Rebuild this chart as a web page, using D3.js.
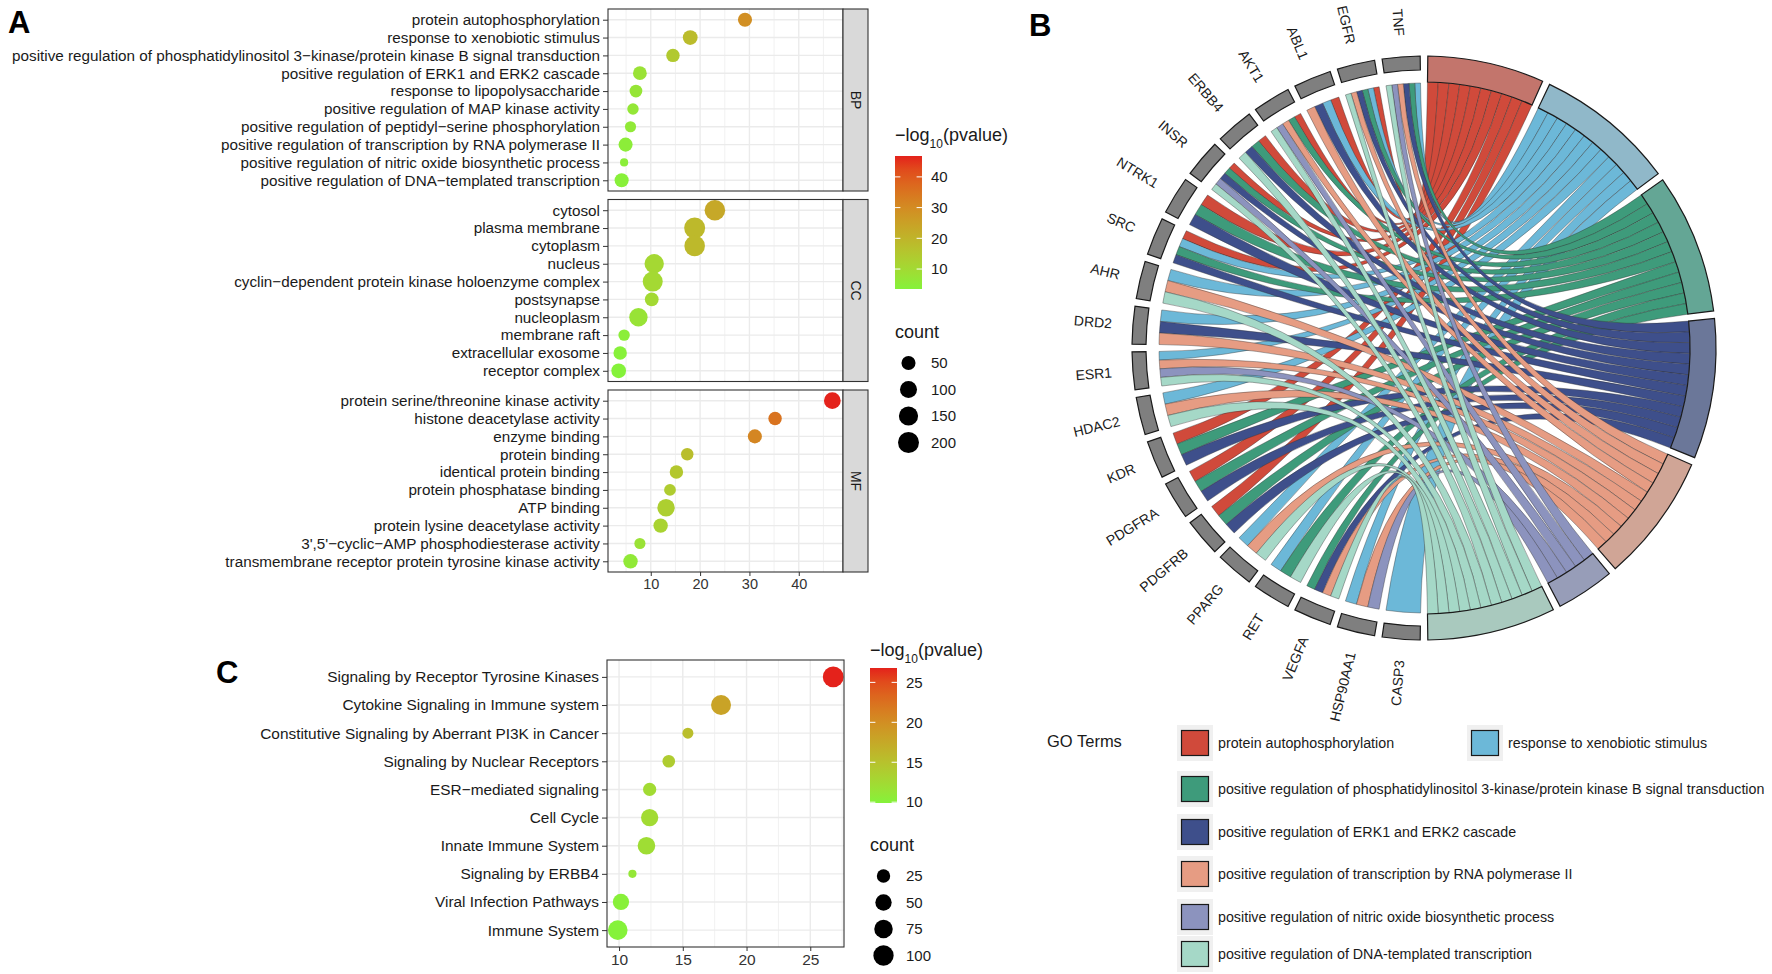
<!DOCTYPE html>
<html>
<head>
<meta charset="utf-8">
<script src="https://cdn.jsdelivr.net/npm/d3@7"></script>
<style>
  body { margin: 0; background: #fff; }
  text { font-family: "Liberation Sans", Arial, Helvetica, sans-serif; }
</style>
</head>
<body>
<svg id="fig" width="1772" height="974"></svg>
<script>
// ---- data: panel A (GO enrichment) ----
var bpTerms = ["protein autophosphorylation", "response to xenobiotic stimulus",
  "positive regulation of phosphatidylinositol 3\u2212kinase/protein kinase B signal transduction",
  "positive regulation of ERK1 and ERK2 cascade", "response to lipopolysaccharide",
  "positive regulation of MAP kinase activity", "positive regulation of peptidyl\u2212serine phosphorylation",
  "positive regulation of transcription by RNA polymerase II",
  "positive regulation of nitric oxide biosynthetic process",
  "positive regulation of DNA\u2212templated transcription"];
var bpLogP = [29.1, 18.0, 14.5, 7.8, 7.0, 6.4, 5.9, 4.9, 4.6, 4.1];
var bpCount = [50, 60, 42, 46, 34, 22, 20, 50, 10, 50];

var ccTerms = ["cytosol", "plasma membrane", "cytoplasm", "nucleus",
  "cyclin\u2212dependent protein kinase holoenzyme complex", "postsynapse", "nucleoplasm",
  "membrane raft", "extracellular exosome", "receptor complex"];
var ccLogP = [23.0, 18.9, 18.9, 10.7, 10.4, 10.2, 7.5, 4.6, 3.8, 3.5];
var ccCount = [188, 200, 188, 154, 172, 46, 130, 22, 42, 60];

var mfTerms = ["protein serine/threonine kinase activity", "histone deacetylase activity",
  "enzyme binding", "protein binding", "identical protein binding", "protein phosphatase binding",
  "ATP binding", "protein lysine deacetylase activity",
  "3',5'\u2212cyclic\u2212AMP phosphodiesterase activity",
  "transmembrane receptor protein tyrosine kinase activity"];
var mfLogP = [46.8, 35.2, 31.1, 17.4, 15.2, 13.9, 13.1, 12.0, 7.8, 5.9];
var mfCount = [94, 42, 50, 31, 42, 25, 108, 55, 20, 55];

var aColorBreaks = [10, 20, 30, 40];
var aCountBreaks = [50, 100, 150, 200];
var aXTicks = [10, 20, 30, 40];

// ---- data: panel C (Reactome) ----
var reTerms = ["Signaling by Receptor Tyrosine Kinases", "Cytokine Signaling in Immune system",
  "Constitutive Signaling by Aberrant PI3K in Cancer", "Signaling by Nuclear Receptors",
  "ESR\u2212mediated signaling", "Cell Cycle", "Innate Immune System", "Signaling by ERBB4",
  "Viral Infection Pathways", "Immune System"];
var reLogP = [26.8, 18.0, 15.4, 13.9, 12.4, 12.4, 12.15, 11.05, 10.15, 9.9];
var reCount = [108, 95, 13, 20, 24, 60, 64, 8, 49, 90];
var cColorBreaks = [10, 15, 20, 25];
var cCountBreaks = [25, 50, 75, 100];
var cXTicks = [10, 15, 20, 25];

// ---- data: panel B (chord) ----
var genes = ["TNF", "EGFR", "ABL1", "AKT1", "ERBB4", "INSR", "NTRK1", "SRC", "AHR", "DRD2",
  "ESR1", "HDAC2", "KDR", "PDGFRA", "PDGFRB", "PPARG", "RET", "VEGFA", "HSP90AA1", "CASP3"];
var goTerms = ["protein autophosphorylation", "response to xenobiotic stimulus",
  "positive regulation of phosphatidylinositol 3-kinase/protein kinase B signal transduction",
  "positive regulation of ERK1 and ERK2 cascade",
  "positive regulation of transcription by RNA polymerase II",
  "positive regulation of nitric oxide biosynthetic process",
  "positive regulation of DNA-templated transcription"];
// term indexes linked to each gene
var geneTerms = [
  [1, 2, 3, 4, 5, 6], [0, 1, 2, 3, 4, 6], [0, 1, 3, 4], [0, 2, 4, 5, 6], [0, 2, 3, 6],
  [0, 2, 3, 5, 6], [0, 2, 3], [0, 1, 2, 3], [1, 4, 6], [1, 3, 4],
  [1, 4, 5, 6], [1, 4, 6], [0, 2, 3], [0, 2, 3], [0, 2, 3],
  [1, 4, 6], [1, 2, 6], [2, 3, 4, 6], [1, 4, 5], [1]];
var ribbonColors = ["#D04A3B", "#6CB8D8", "#3E9B7B", "#3E4F8B", "#E69C83", "#8C93BE", "#A5D8C7"];
var bandColors = ["#C3756C", "#90B8C9", "#64A695", "#6B7799", "#D0A596", "#979DB8", "#A9C9BE"];

var LOW = "#85F23A", HIGH = "#E4221B";
var svg = d3.select("#fig");

function fitSize(str, target) {
  var t = svg.append("text").style("font-size", "100px").text(str);
  var w = t.node().getComputedTextLength();
  t.remove();
  return 100 * target / w;
}

function padExtent(ext) {
  var p = (ext[1] - ext[0]) * 0.05;
  return [ext[0] - p, ext[1] + p];
}

// draws one dot panel
function dotPanel(o) {
  var g = svg.append("g");
  var y = d3.scalePoint().domain(o.terms).range([o.top, o.top + o.h]).padding(0.6);
  var x0 = o.x.range()[0], x1 = o.x.range()[1];
  g.append("rect").attr("x", x0).attr("y", o.top).attr("width", x1 - x0).attr("height", o.h)
    .attr("fill", "#fff");
  g.selectAll(".minor").data(o.minor).enter().append("line")
    .attr("x1", d => o.x(d)).attr("x2", d => o.x(d))
    .attr("y1", o.top).attr("y2", o.top + o.h)
    .attr("stroke", "#ebebeb").attr("stroke-width", 0.7);
  g.selectAll(".major").data(o.major).enter().append("line")
    .attr("x1", d => o.x(d)).attr("x2", d => o.x(d))
    .attr("y1", o.top).attr("y2", o.top + o.h)
    .attr("stroke", "#ebebeb").attr("stroke-width", 1.4);
  g.selectAll(".hgrid").data(o.terms).enter().append("line")
    .attr("x1", x0).attr("x2", x1)
    .attr("y1", d => y(d)).attr("y2", d => y(d))
    .attr("stroke", "#ebebeb").attr("stroke-width", 1.4);
  g.selectAll("circle").data(o.terms).enter().append("circle")
    .attr("cx", (d, i) => o.x(o.logp[i]))
    .attr("cy", d => y(d))
    .attr("r", (d, i) => o.r(o.count[i] - o.cmin))
    .attr("fill", (d, i) => o.col(o.logp[i]));
  g.append("rect").attr("x", x0).attr("y", o.top).attr("width", x1 - x0).attr("height", o.h)
    .attr("fill", "none").attr("stroke", "#333").attr("stroke-width", 1.1);
  var ax = g.append("g").attr("transform", "translate(" + x0 + ",0)")
    .call(d3.axisLeft(y).tickSize(5).tickPadding(3));
  ax.select(".domain").remove();
  ax.selectAll(".tick line").attr("stroke", "#333");
  ax.selectAll("text").attr("fill", "#1a1a1a").style("font-size", o.fs + "px")
    .style("font-family", "'Liberation Sans', Arial, sans-serif");
  if (o.strip) {
    g.append("rect").attr("x", x1).attr("y", o.top).attr("width", 25).attr("height", o.h)
      .attr("fill", "#d9d9d9").attr("stroke", "#333").attr("stroke-width", 1.1);
    g.append("text").attr("transform", "translate(" + (x1 + 12.5) + "," + (o.top + o.h / 2) + ") rotate(90)")
      .attr("text-anchor", "middle").attr("dy", "0.35em").style("font-size", "14px")
      .attr("fill", "#1a1a1a").text(o.strip);
  }
  if (o.xTicks) {
    var xa = g.append("g").attr("transform", "translate(0," + (o.top + o.h) + ")")
      .call(d3.axisBottom(o.x).tickValues(o.xTicks).tickSize(4).tickPadding(3));
    xa.select(".domain").remove();
    xa.selectAll(".tick line").attr("stroke", "#333");
    xa.selectAll("text").attr("fill", "#333").style("font-size", o.xfs + "px")
      .style("font-family", "'Liberation Sans', Arial, sans-serif");
  }
}

function legend(o) {
  var g = svg.append("g");
  var t = g.append("text").attr("x", o.x).attr("y", o.titleY).style("font-size", "18px").attr("fill", "#1a1a1a");
  t.append("tspan").text("\u2212log");
  t.append("tspan").attr("baseline-shift", "sub").style("font-size", "12px").text("10");
  t.append("tspan").text("(pvalue)");
  var id = "grad" + o.id;
  var grad = svg.append("defs").append("linearGradient").attr("id", id)
    .attr("x1", 0).attr("y1", 1).attr("x2", 0).attr("y2", 0);
  d3.range(0, 1.0001, 0.1).forEach(function (s) {
    var d = o.col.domain();
    grad.append("stop").attr("offset", s).attr("stop-color", o.col(d[0] + s * (d[1] - d[0])));
  });
  var by = d3.scaleLinear().domain(o.col.domain()).range([o.barBottom, o.barTop]);
  g.append("rect").attr("x", o.x).attr("y", o.barTop).attr("width", 27)
    .attr("height", o.barBottom - o.barTop).attr("fill", "url(#" + id + ")");
  o.breaks.forEach(function (b) {
    [[o.x, o.x + 5.4], [o.x + 21.6, o.x + 27]].forEach(function (s) {
      g.append("line").attr("x1", s[0]).attr("x2", s[1]).attr("y1", by(b)).attr("y2", by(b))
        .attr("stroke", "#fff").attr("stroke-width", 1);
    });
    g.append("text").attr("x", o.x + 36).attr("y", by(b)).attr("dy", "0.35em")
      .style("font-size", "15px").attr("fill", "#1a1a1a").text(b);
  });
  g.append("text").attr("x", o.x).attr("y", o.countY).style("font-size", "18px")
    .attr("fill", "#1a1a1a").text("count");
  o.countBreaks.forEach(function (c, i) {
    var cy = o.countY + 25 + i * 26.5;
    g.append("circle").attr("cx", o.x + 13.5).attr("cy", cy).attr("r", o.r(c - o.cmin)).attr("fill", "#000");
    g.append("text").attr("x", o.x + 36).attr("y", cy).attr("dy", "0.35em")
      .style("font-size", "15px").attr("fill", "#1a1a1a").text(c);
  });
}

// ---- panel A ----
var aLogP = bpLogP.concat(ccLogP, mfLogP);
var aCount = bpCount.concat(ccCount, mfCount);
var aExt = d3.extent(aLogP);
var xA = d3.scaleLinear().domain(padExtent(aExt)).range([608, 843]);
var colA = d3.scaleLinear().domain(aExt).range([LOW, HIGH]).interpolate(d3.interpolateLab);
var aCExt = d3.extent(aCount);
var rA = d3.scaleSqrt().domain([0, aCExt[1] - aCExt[0]]).range([4.1, 10.5]);
var fsA = fitSize(bpTerms[2], 588);
var facets = [[bpTerms, bpLogP, bpCount, "BP"], [ccTerms, ccLogP, ccCount, "CC"], [mfTerms, mfLogP, mfCount, "MF"]];
var topsA = [9, 199.5, 390];
facets.forEach(function (f, i) {
  dotPanel({terms: f[0], logp: f[1], count: f[2], strip: f[3], top: topsA[i], h: 182,
    x: xA, col: colA, r: rA, cmin: aCExt[0], fs: fsA,
    major: [10, 20, 30, 40], minor: [5, 15, 25, 35, 45],
    xTicks: i == 2 ? aXTicks : null, xfs: 14.5});
});
legend({id: "A", x: 895, titleY: 141, barTop: 156, barBottom: 289, col: colA,
  breaks: aColorBreaks, countY: 338, countBreaks: aCountBreaks, r: rA, cmin: aCExt[0]});

// ---- panel C ----
var cExt = d3.extent(reLogP);
var xC = d3.scaleLinear().domain(padExtent(cExt)).range([607, 844]);
var colC = d3.scaleLinear().domain(cExt).range([LOW, HIGH]).interpolate(d3.interpolateLab);
var cCExt = d3.extent(reCount);
var rC = d3.scaleSqrt().domain([0, cCExt[1] - cCExt[0]]).range([4.1, 10.4]);
dotPanel({terms: reTerms, logp: reLogP, count: reCount, top: 660, h: 287,
  x: xC, col: colC, r: rC, cmin: cCExt[0], fs: fitSize(reTerms[2], 339),
  major: [10, 15, 20, 25], minor: [12.5, 17.5, 22.5, 27.5], xTicks: cXTicks, xfs: 15.5});
legend({id: "C", x: 870, titleY: 656, barTop: 668, barBottom: 803, col: colC,
  breaks: cColorBreaks, countY: 851, countBreaks: cCountBreaks, r: rC, cmin: cCExt[0]});

// ---- panel B: chord ----
var cx = 1424, cy = 348, rOut = 292, rGeneIn = 278, rTermIn = 266, rRibG = 265, rRibT = 266;
var deg = Math.PI / 180, gap = 1.5;
var chord = svg.append("g").attr("transform", "translate(" + cx + "," + cy + ")");
var termN = goTerms.map((t, j) => geneTerms.filter(a => a.indexOf(j) >= 0).length);
var unit = (178.5 - gap * (goTerms.length - 1)) / d3.sum(termN);
var termStart = [], acc = 0.75;
termN.forEach(function (n, j) { termStart.push(acc); acc += n * unit + gap; });
var geneW = (178.5 - gap * (genes.length - 1)) / genes.length;
function geneEnd(i) { return 359.25 - i * (geneW + gap); }

var ribbons = [];
genes.forEach(function (gname, i) {
  var ts = geneTerms[i].slice().sort((a, b) => b - a);
  var w = geneW / ts.length, s0 = geneEnd(i) - geneW;
  ts.forEach(function (j, k) {
    ribbons.push({gene: i, term: j, g0: s0 + k * w, g1: s0 + (k + 1) * w});
  });
});
// order inside each term: gene index ascending
goTerms.forEach(function (t, j) {
  ribbons.filter(r => r.term == j).sort((a, b) => a.gene - b.gene).forEach(function (r, k) {
    r.t0 = termStart[j] + k * unit;
    r.t1 = r.t0 + unit;
  });
});
ribbons.sort((a, b) => a.term - b.term);
var rib = d3.ribbon();
chord.selectAll(".rib").data(ribbons).enter().append("path")
  .attr("d", d => rib({source: {startAngle: d.g0 * deg, endAngle: d.g1 * deg, radius: rRibG},
                         target: {startAngle: d.t0 * deg, endAngle: d.t1 * deg, radius: rRibT}}))
  .attr("fill", d => ribbonColors[d.term])
  .attr("stroke", "#333").attr("stroke-width", 0.5).attr("stroke-opacity", 0.8);

var arc = d3.arc();
chord.selectAll(".tband").data(goTerms).enter().append("path")
  .attr("d", (d, j) => arc({innerRadius: rTermIn, outerRadius: rOut,
    startAngle: termStart[j] * deg, endAngle: (termStart[j] + termN[j] * unit) * deg}))
  .attr("fill", (d, j) => bandColors[j]).attr("stroke", "#1a1a1a").attr("stroke-width", 1.2);
chord.selectAll(".gband").data(genes).enter().append("path")
  .attr("d", (d, i) => arc({innerRadius: rGeneIn, outerRadius: rOut,
    startAngle: (geneEnd(i) - geneW) * deg, endAngle: geneEnd(i) * deg}))
  .attr("fill", "#7f7f7f").attr("stroke", "#1a1a1a").attr("stroke-width", 1.2);
chord.selectAll(".glab").data(genes).enter().append("text")
  .attr("transform", function (d, i) {
    var a = geneEnd(i) - geneW / 2, r = 313;
    var px = r * Math.sin(a * deg), py = -r * Math.cos(a * deg);
    return "translate(" + px + "," + py + ") rotate(" + (a - 270) + ")";
  })
  .attr("text-anchor", "end").attr("dy", "0.35em").style("font-size", "14px")
  .attr("fill", "#1a1a1a").text(d => d);

// GO terms legend
var lg = svg.append("g");
lg.append("text").attr("x", 1047).attr("y", 747).style("font-size", "16.5px").attr("fill", "#1a1a1a").text("GO Terms");
var fsL = fitSize(goTerms[2], 547);
var legRows = [743, 743, 789, 832, 874, 917, 954];
var legX = [1195, 1485, 1195, 1195, 1195, 1195, 1195];
goTerms.forEach(function (t, j) {
  var x = legX[j], y = legRows[j];
  lg.append("rect").attr("x", x - 18).attr("y", y - 18).attr("width", 36).attr("height", 36).attr("fill", "#f0f0f0");
  lg.append("rect").attr("x", x - 13.5).attr("y", y - 12.5).attr("width", 27).attr("height", 25)
    .attr("fill", ribbonColors[j]).attr("stroke", "#1a1a1a").attr("stroke-width", 1.2);
  lg.append("text").attr("x", x + 23).attr("y", y).attr("dy", "0.35em").style("font-size", fsL + "px")
    .attr("fill", "#1a1a1a").text(t);
});

// panel letters
[["A", 8, 33], ["B", 1029, 36], ["C", 216, 683]].forEach(function (p) {
  svg.append("text").attr("x", p[1]).attr("y", p[2]).style("font-size", "31px")
    .style("font-weight", "bold").attr("fill", "#000").text(p[0]);
});
</script>
</body>
</html>
